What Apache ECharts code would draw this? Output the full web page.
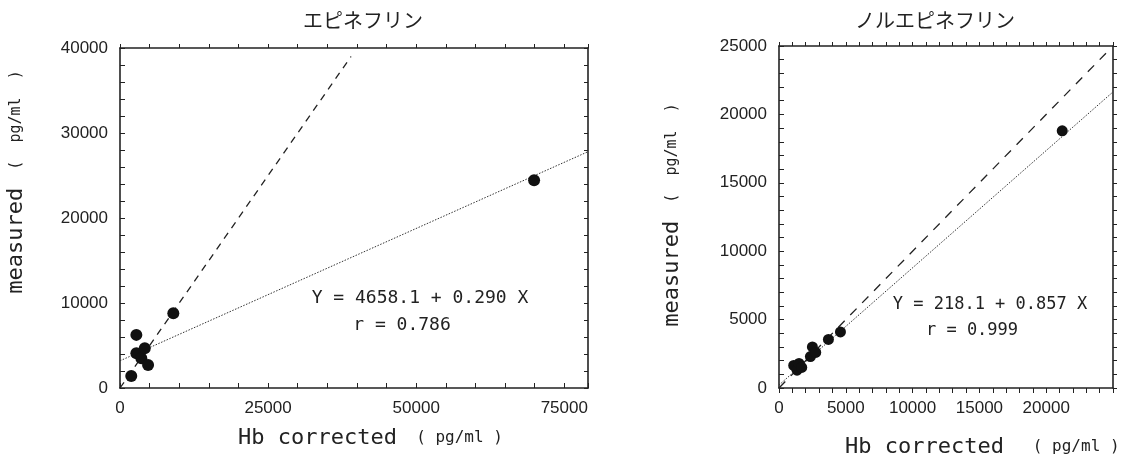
<!DOCTYPE html>
<html>
<head>
<meta charset="utf-8">
<script src="https://cdn.jsdelivr.net/npm/echarts@6/dist/echarts.min.js"></script>
<style>
	html, body { margin: 0; padding: 0; background: #fff; }
	#chart { width: 1140px; height: 458px; }
</style>
</head>
<body>
<div id="chart"></div>
<script>
// エピネフリン (left panel)
const epiHb = [1900, 2760, 2760, 3600, 4180, 4740, 9000, 69900];
const epiMeasured = [1400, 6250, 4080, 3490, 4670, 2700, 8800, 24450];
const epiIdentity = [[0, 0], [39000, 39000]];
const epiFit = [[0, 3200], [79000, 27800]];
const epiXTicks = [0, 25000, 50000, 75000];
const epiYTicks = [0, 10000, 20000, 30000, 40000];

// ノルエピネフリン (right panel)
const norHb = [1100, 1350, 1500, 1700, 2350, 2500, 2750, 3700, 4600, 21200];
const norMeasured = [1650, 1300, 1800, 1500, 2300, 3000, 2600, 3550, 4100, 18800];
const norIdentity = [[0, 0], [24700, 24700]];
const norFit = [[0, 218.1], [25000, 21643]];
const norXTicks = [0, 5000, 10000, 15000, 20000];
const norYTicks = [0, 5000, 10000, 15000, 20000, 25000];

const ink = '#222';
const labelFont = { color: ink, fontFamily: 'Liberation Sans', fontSize: 17 };
const monoFont = 'DejaVu Sans Mono';

function tickLabel(ticks) {
	return (v) => ticks.includes(v) ? String(v) : '';
}

function axisPair(kind, grid, max, step, ticks, ticksInside, farInside, farShow) {
	const line = { show: true, onZero: false, lineStyle: { color: ink, width: 1.6 } };
	const near = {
		type: 'value', gridIndex: grid, min: 0, max: max, interval: step,
		position: kind === 'x' ? 'bottom' : 'left',
		axisLine: line,
		axisTick: { show: true, inside: ticksInside, length: 5, lineStyle: { color: ink, width: 1 } },
		axisLabel: Object.assign({ margin: 12, formatter: tickLabel(ticks) }, labelFont),
		splitLine: { show: false }
	};
	const far = {
		type: 'value', gridIndex: grid, min: 0, max: max, interval: step,
		position: kind === 'x' ? 'top' : 'right',
		axisLine: line,
		axisTick: { show: farShow, inside: farInside, length: 4, lineStyle: { color: ink, width: 1 } },
		axisLabel: { show: false },
		splitLine: { show: false }
	};
	return [near, far];
}

function pairs(xs, ys) {
	return xs.map((x, i) => [x, ys[i]]);
}

function panelSeries(axis, points, identity, fit, dash, dotSize) {
	return [
		{
			type: 'line', xAxisIndex: axis, yAxisIndex: axis, data: identity,
			symbol: 'none', silent: true,
			lineStyle: { color: ink, width: 1.3, type: dash }
		},
		{
			type: 'line', xAxisIndex: axis, yAxisIndex: axis, data: fit,
			symbol: 'none', silent: true,
			lineStyle: { color: '#333', width: 1, type: [1.5, 1.5] }
		},
		{
			type: 'scatter', xAxisIndex: axis, yAxisIndex: axis, data: points,
			symbol: 'circle', symbolSize: dotSize, z: 5,
			itemStyle: { color: '#111', opacity: 1 }
		}
	];
}

function rotatedName(x, y) {
	return {
		type: 'text', x: x, y: y, rotation: Math.PI / 2,
		style: {
			text: '{a|measured}{b|  (  pg/ml  )}',
			align: 'center', verticalAlign: 'middle', fill: ink,
			rich: {
				a: { fontFamily: monoFont, fontSize: 22, fill: ink },
				b: { fontFamily: monoFont, fontSize: 15, fill: ink }
			}
		}
	};
}

function bottomName(x, y, gap) {
	return {
		type: 'text', x: x, y: y,
		style: {
			text: '{a|Hb corrected}{b|' + gap + '( pg/ml )}',
			align: 'left', verticalAlign: 'middle', fill: ink,
			rich: {
				a: { fontFamily: monoFont, fontSize: 22, fill: ink },
				b: { fontFamily: monoFont, fontSize: 16, fill: ink }
			}
		}
	};
}

function note(x, y, text, size) {
	return {
		type: 'text', x: x, y: y,
		style: { text: text, align: 'center', verticalAlign: 'middle', fill: ink, fontFamily: monoFont, fontSize: size }
	};
}

const epiX = axisPair('x', 0, 79000, 5000, epiXTicks, true, false, true);
const epiY = axisPair('y', 0, 40000, 2000, epiYTicks, true, true, true);
const norX = axisPair('x', 1, 25000, 1000, norXTicks, false, false, true);
const norY = axisPair('y', 1, 25000, 1000, norYTicks, true, false, true);

const titleStyle = { fontFamily: 'Noto Sans CJK JP', fontSize: 20, fontWeight: 'normal', color: ink };

const option = {
	animation: false,
	backgroundColor: '#fff',
	title: [
		{ text: 'エピネフリン', left: 358, top: 5, textAlign: 'center', textStyle: titleStyle },
		{ text: 'ノルエピネフリン', left: 930, top: 5, textAlign: 'center', textStyle: titleStyle }
	],
	grid: [
		{ left: 120, top: 48, width: 468, height: 340 },
		{ left: 779, top: 46, width: 334, height: 342 }
	],
	xAxis: [epiX[0], epiX[1], norX[0], norX[1]],
	yAxis: [epiY[0], epiY[1], norY[0], norY[1]],
	series: [].concat(
		panelSeries(0, pairs(epiHb, epiMeasured), epiIdentity, epiFit, [7, 6], 12),
		panelSeries(2, pairs(norHb, norMeasured), norIdentity, norFit, [9, 8], 11)
	),
	graphic: [
		rotatedName(16, 182),
		rotatedName(672, 215),
		bottomName(238, 438, '  '),
		bottomName(845, 447, '   '),
		note(420, 298, 'Y = 4658.1 + 0.290 X', 18),
		note(402, 325, 'r = 0.786', 18),
		note(990, 305, 'Y = 218.1 + 0.857 X', 17),
		note(972, 331, 'r = 0.999', 17)
	]
};

const chart = echarts.init(document.getElementById('chart'));
chart.setOption(option);
</script>
</body>
</html>
